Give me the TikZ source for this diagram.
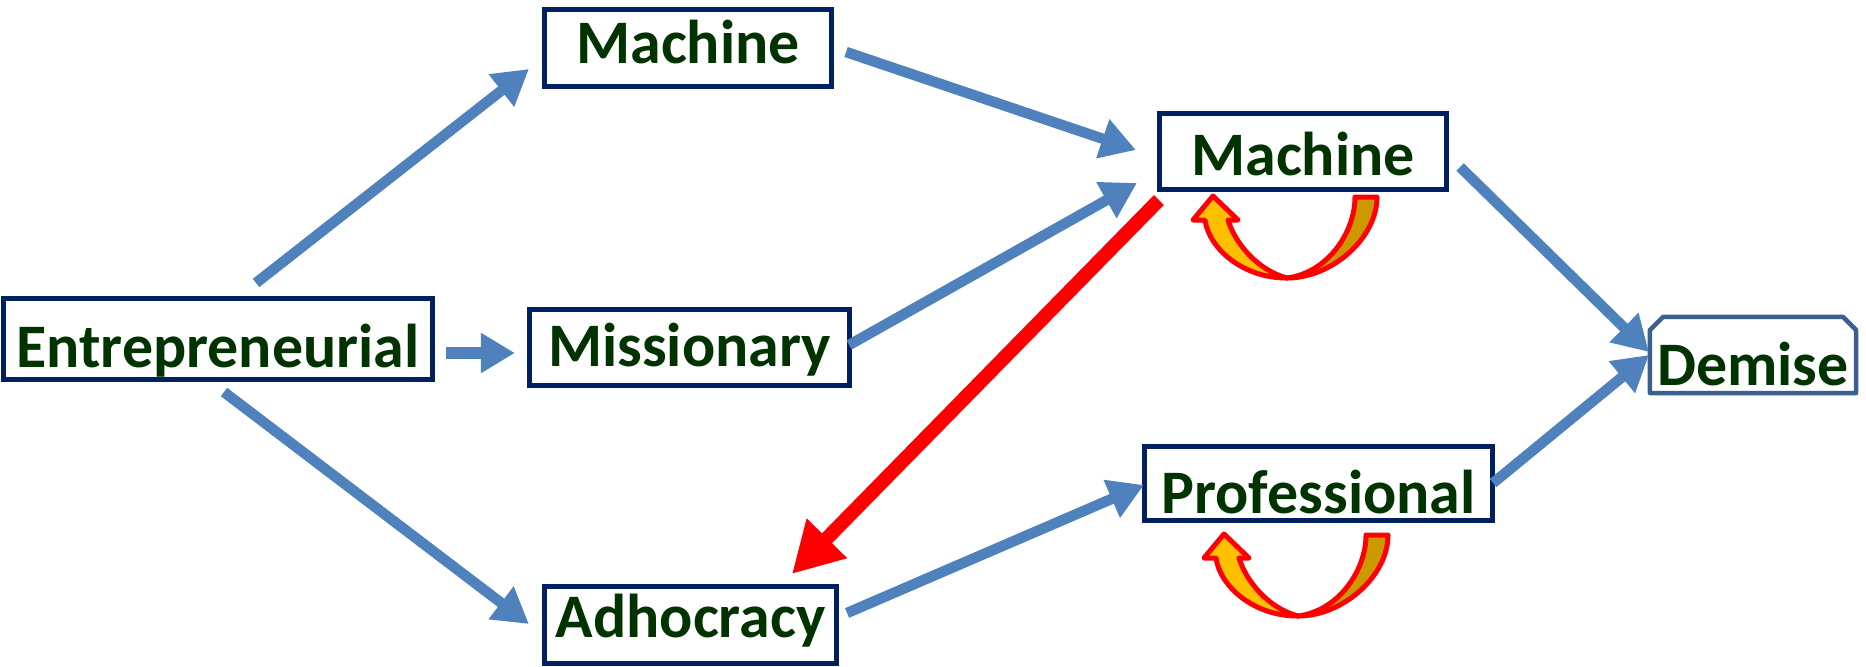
\documentclass[tikz,border=0pt]{standalone}
\usepackage{fontspec}
\setmainfont{Carlito}
\usetikzlibrary{arrows.meta,calc}
\definecolor{navy}{HTML}{002060}
\definecolor{txtgreen}{HTML}{003300}
\definecolor{arrowblue}{HTML}{4F81BD}
\definecolor{demblue}{HTML}{3B5F8E}
\definecolor{ugold}{HTML}{FFC000}
\definecolor{udark}{HTML}{CC9900}
\tikzset{
  box/.style={draw=navy, line width=0.05cm, fill=white, inner sep=0pt, outer sep=0pt,
    text=txtgreen, font=\fontsize{17.6pt}{20pt}\selectfont\bfseries, text depth=0pt},
  bluearrow/.style={draw=arrowblue, line width=0.105cm,
    -{Triangle[length=0.35cm,width=0.39cm]}},
  fatarrow/.style={draw=arrowblue, line width=0.12cm,
    -{Triangle[length=0.34cm,width=0.38cm]}},
  redarrow/.style={draw=red, line width=0.14cm,
    -{Triangle[length=0.5cm,width=0.53cm]}},
  upart/.style={draw=red, line width=0.05cm, line join=round},
  uturn/.pic={
    \filldraw[upart, fill=udark] (0,0) .. controls (45,0) and (90,-40) .. (90,-81)
      -- (68,-81) .. controls (68,-45) and (40,-5) .. (0,0) -- cycle;
    \filldraw[upart, fill=ugold] (0,0) .. controls (-45,0) and (-78,-30) .. (-82,-58)
      -- (-94,-58) -- (-74,-82) -- (-49,-58) -- (-59,-58)
      .. controls (-52,-35) and (-30,-8) .. (0,0) -- cycle;
  }
}
\begin{document}
\begin{tikzpicture}[x=0.01cm,y=-0.01cm]
\useasboundingbox (0,0) rectangle (1866,667);

\node[box, minimum width=2.86cm, minimum height=0.76cm, text height=0.30cm] (mtop) at (688,48) {Machine};
\node[box, minimum width=2.86cm, minimum height=0.75cm, text height=0.47cm] (mright) at (1303,151.5) {Machine};
\node[box, minimum width=4.28cm, minimum height=0.80cm, text height=0.56cm] (ent) at (218,339) {Entrepreneurial};
\node[box, minimum width=3.19cm, minimum height=0.75cm, text height=0.38cm] (miss) at (689.5,347.5) {Missionary};
\node[box, minimum width=2.91cm, minimum height=0.76cm, text height=0.24cm] (adh) at (690.5,625) {Adhocracy};
\node[box, minimum width=3.47cm, minimum height=0.73cm, text height=0.59cm] (prof) at (1318.5,483.5) {Professional};
\node[box, draw=none, fill=none, minimum width=2.06cm, minimum height=0.76cm, text height=0.60cm] (dem) at (1753,355) {Demise};
\draw[draw=demblue, line width=0.045cm, line join=round]
  (dem.south west) -- ($(dem.north west)+(0,13)$) -- ($(dem.north west)+(13,0)$)
  -- ($(dem.north east)+(-13,0)$) -- ($(dem.north east)+(0,13)$) -- (dem.south east) -- cycle;

\draw[bluearrow] ($(ent.north)+(38,-16)$) -- ($(mtop.west)+(-16,21)$);
\draw[fatarrow] ($(ent.east)+(14,14)$) -- ($(miss.west)+(-15,5.5)$);
\draw[bluearrow] ($(ent.south)+(6,13)$) -- ($(adh.west)+(-16,-1)$);
\draw[bluearrow] ($(mtop.east)+(15,4)$) -- ($(mright.west)+(-24,-1.5)$);
\draw[bluearrow] ($(miss.east)+(0,-2.5)$) -- ($(mright.west)+(-23,31.5)$);
\draw[redarrow] ($(mright.south west)+(-1,11)$) -- ($(adh.north west)+(247,-13)$);
\draw[bluearrow] ($(adh.east)+(11,-12)$) -- ($(prof.west)+(-1,1.5)$);
\draw[bluearrow] ($(mright.east)+(14,15.5)$) -- ($(dem.west)+(-1,-3)$);
\draw[bluearrow] ($(prof.east)+(1,-0.5)$) -- ($(dem.west)+(-1,0)$);

\pic at ($(mright.south)+(-16,89)$) {uturn};
\pic at ($(prof.south)+(-20.5,96)$) {uturn};
\end{tikzpicture}
\end{document}
